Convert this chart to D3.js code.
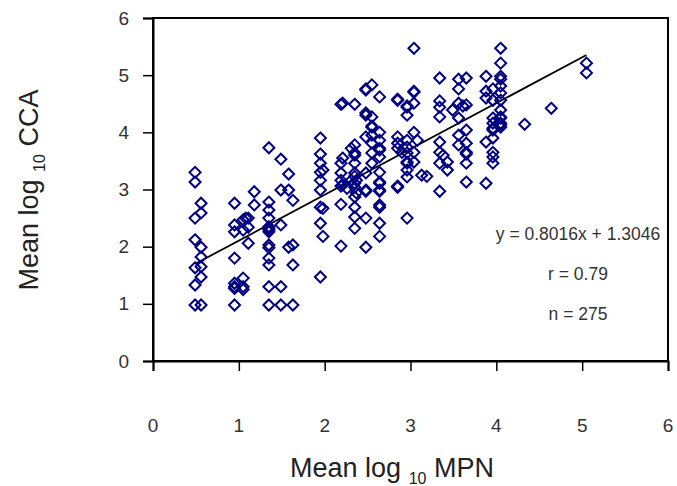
<!DOCTYPE html>
<html>
<head>
<meta charset="utf-8">
<script src="https://cdn.jsdelivr.net/npm/d3@7"></script>
<style>
  body { margin: 0; background: #fff; }
  text { font-family: "Liberation Sans", Arial, sans-serif; }
</style>
</head>
<body>
<div id="chart"></div>
<script>
// x values (Mean log10 MPN), grouped by column
const mpn = [
  0.49, 0.49, 0.49, 0.49, 0.49, 0.49, 0.49,
  0.56, 0.56, 0.56, 0.56, 0.56, 0.56, 0.56,
  0.95, 0.95, 0.95, 0.95, 0.95, 0.95, 0.95, 0.95,
  1.05, 1.05, 1.05, 1.05, 1.05, 1.08, 1.11, 1.11, 1.11, 1.18, 1.18,
  1.35, 1.35, 1.35, 1.35, 1.35, 1.35, 1.35, 1.35, 1.35, 1.35, 1.35, 1.35, 1.35, 1.35,
  1.49, 1.49, 1.49, 1.49, 1.49, 1.58, 1.58, 1.58, 1.63, 1.63, 1.63, 1.63,
  1.95, 1.95, 1.95, 1.95, 1.95, 1.95, 1.95, 1.95, 1.95, 1.98, 1.98, 1.98,
  2.19, 2.19, 2.19, 2.19, 2.19, 2.19, 2.19, 2.21, 2.21, 2.21, 2.26, 2.31, 2.31,
  2.35, 2.35, 2.35, 2.35, 2.35, 2.35, 2.35, 2.35, 2.35, 2.35, 2.35, 2.35, 2.35, 2.37, 2.37,
  2.48, 2.48, 2.48, 2.48, 2.48, 2.48, 2.48, 2.48, 2.48, 2.48,
  2.55, 2.55, 2.55, 2.55, 2.55, 2.55, 2.55, 2.55,
  2.64, 2.64, 2.64, 2.64, 2.64, 2.64, 2.64, 2.64, 2.64, 2.64, 2.64, 2.64, 2.64, 2.64, 2.64,
  2.85, 2.85, 2.85, 2.85, 2.85, 2.85, 2.85, 2.90,
  2.96, 2.96, 2.96, 2.96, 2.96, 2.96, 2.96, 2.96, 2.96, 2.96, 2.96,
  3.04, 3.04, 3.04, 3.04, 3.04, 3.04, 3.04, 3.08, 3.13, 3.19,
  3.34, 3.34, 3.34, 3.34, 3.34, 3.34, 3.34, 3.34, 3.38, 3.43, 3.43, 3.49,
  3.56, 3.56, 3.56, 3.56, 3.56, 3.56, 3.61,
  3.65, 3.65, 3.65, 3.65, 3.65, 3.65, 3.65, 3.65,
  3.88, 3.88, 3.88, 3.88, 3.88,
  3.96, 3.96, 3.96, 3.96, 3.96, 3.96, 3.96, 3.96, 3.96, 3.96,
  4.05, 4.05, 4.05, 4.05, 4.05, 4.05, 4.05, 4.05, 4.05, 4.05, 4.05, 4.05, 4.05,
  4.33, 4.64, 5.05, 5.05
];
// y values (Mean log10 CCA), same order
const cca = [
  3.30, 3.13, 2.50, 2.12, 1.63, 1.33, 0.98,
  2.76, 2.59, 1.99, 1.82, 1.65, 1.47, 0.98,
  2.76, 2.38, 2.26, 1.80, 1.36, 1.30, 0.98, 1.27,
  2.47, 2.29, 1.45, 1.30, 1.25, 2.50, 2.50, 2.34, 2.06, 2.96, 2.73,
  3.73, 2.78, 2.64, 2.50, 2.35, 2.32, 2.30, 2.26, 2.03, 1.98, 1.80, 1.68, 1.30, 0.98,
  3.53, 2.99, 2.38, 1.30, 0.98, 3.27, 2.99, 1.99, 2.81, 2.03, 1.68, 0.98,
  3.90, 3.62, 3.46, 3.30, 3.16, 2.99, 2.69, 2.41, 1.47, 3.34, 2.67, 2.18,
  4.49, 3.46, 3.29, 3.16, 3.06, 2.74, 2.01, 4.51, 3.55, 3.08, 3.02, 3.72, 3.16,
  4.49, 3.78, 3.64, 3.60, 3.46, 3.29, 3.23, 3.11, 3.04, 2.87, 2.69, 2.52, 2.32, 3.16, 2.94,
  4.76, 4.74, 4.34, 4.30, 3.92, 3.29, 2.99, 2.97, 2.50, 1.99,
  4.83, 4.27, 4.11, 4.09, 3.95, 3.81, 3.64, 3.46,
  4.62, 4.00, 3.86, 3.72, 3.69, 3.57, 3.30, 3.13, 3.11, 2.99, 2.97, 2.73, 2.69, 2.41, 2.18,
  4.58, 4.56, 3.92, 3.81, 3.72, 3.06, 3.04, 3.65,
  4.46, 4.44, 4.30, 3.86, 3.74, 3.64, 3.48, 3.46, 3.34, 3.22, 2.50,
  5.47, 4.72, 4.70, 4.51, 4.00, 3.65, 3.48, 3.86, 3.25, 3.23,
  4.95, 4.55, 4.44, 4.27, 3.83, 3.65, 3.46, 2.97, 3.60, 3.34, 3.48, 4.39,
  4.93, 4.76, 4.51, 4.25, 3.95, 3.78, 4.46,
  4.95, 4.48, 4.04, 3.81, 3.65, 3.46, 3.13, 3.62,
  4.98, 4.72, 4.60, 3.83, 3.11,
  4.76, 4.56, 4.25, 4.07, 4.04, 3.90, 3.65, 3.57, 3.46, 4.16,
  5.47, 5.21, 4.98, 4.93, 4.81, 4.69, 4.56, 4.39, 4.25, 4.27, 4.16, 4.13, 4.09,
  4.14, 4.42, 5.21, 5.04
];

const xTicks = [0, 1, 2, 3, 4, 5, 6];
const yTicks = [0, 1, 2, 3, 4, 5, 6];

// fitted line and stats shown in the plot
const slope = 0.8016;
const intercept = 1.3046;
const statLabels = ["y = 0.8016x + 1.3046", "r = 0.79", "n = 275"];

const width = 677, height = 486;
const plotL = 153, plotR = 668, plotT = 18, plotB = 361;

const svg = d3.select("#chart").append("svg")
    .attr("width", width)
    .attr("height", height);

var x = d3.scaleLinear().domain([0, 6]).range([plotL, plotR]);
var y = d3.scaleLinear().domain([0, 6]).range([plotB, plotT]);

var data = mpn.map((d, i) => ({ x: d, y: cca[i] }));

// plot frame
svg.append("rect")
    .attr("x", plotL).attr("y", plotT)
    .attr("width", plotR - plotL).attr("height", plotB - plotT)
    .attr("fill", "none")
    .attr("stroke", "#000")
    .attr("stroke-width", 2);

// y axis
var yAxis = svg.append("g")
    .attr("transform", "translate(" + plotL + ",0)")
    .call(d3.axisLeft(y).tickValues(yTicks).tickSize(10).tickPadding(14).tickFormat(d3.format("d")));
yAxis.select(".domain").attr("stroke-width", 2);
yAxis.selectAll(".tick line").attr("stroke-width", 1.5);
yAxis.selectAll(".tick text")
    .style("font-size", "19px")
    .attr("fill", "#333");

// x axis: labels sit well below the ticks
var xAxis = svg.append("g")
    .attr("transform", "translate(0," + plotB + ")")
    .call(d3.axisBottom(x).tickValues(xTicks).tickSize(10).tickFormat(""));
xAxis.select(".domain").attr("stroke-width", 2);
xAxis.selectAll(".tick line").attr("stroke-width", 1.5);

svg.append("g").selectAll("text")
    .data(xTicks)
    .enter().append("text")
    .attr("x", d => x(d))
    .attr("y", 432)
    .attr("text-anchor", "middle")
    .attr("fill", "#333")
    .style("font-size", "19px")
    .text(d => d);

// regression line across the data range
var xExt = d3.extent(mpn);
svg.append("line")
    .attr("x1", x(xExt[0])).attr("y1", y(slope * xExt[0] + intercept))
    .attr("x2", x(xExt[1])).attr("y2", y(slope * xExt[1] + intercept))
    .attr("stroke", "#000")
    .attr("stroke-width", 1.8);

// hollow diamond markers
var r = 5.5;
svg.append("g").selectAll("path")
    .data(data)
    .enter().append("path")
    .attr("d", "M0," + (-r) + "L" + r + ",0L0," + r + "L" + (-r) + ",0Z")
    .attr("transform", d => "translate(" + x(d.x) + "," + y(d.y) + ")")
    .attr("fill", "none")
    .attr("stroke", "#000080")
    .attr("stroke-width", 2);

// stats text
svg.append("g").selectAll("text")
    .data(statLabels)
    .enter().append("text")
    .attr("x", 578)
    .attr("y", (d, i) => 240 + i * 40)
    .attr("text-anchor", "middle")
    .attr("fill", "#333")
    .style("font-size", "17.5px")
    .text(d => d);

// axis titles with subscript 10
var xt = svg.append("text")
    .attr("x", 392)
    .attr("y", 477)
    .attr("text-anchor", "middle")
    .attr("fill", "#222")
    .style("font-size", "27px");
xt.append("tspan").text("Mean log ");
xt.append("tspan").attr("dy", 7).style("font-size", "16px").text("10");
xt.append("tspan").attr("dy", -7).text(" MPN");

var yt = svg.append("text")
    .attr("transform", "translate(38,190) rotate(-90)")
    .attr("text-anchor", "middle")
    .attr("fill", "#222")
    .style("font-size", "27px");
yt.append("tspan").text("Mean log ");
yt.append("tspan").attr("dy", 7).style("font-size", "16px").text("10");
yt.append("tspan").attr("dy", -7).text(" CCA");
</script>
</body>
</html>
